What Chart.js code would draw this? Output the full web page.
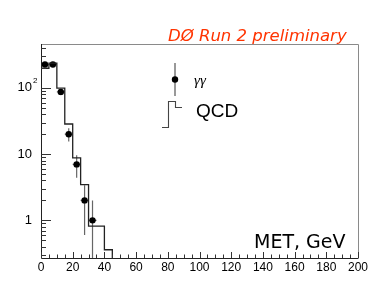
<!DOCTYPE html>
<html>
<head>
<meta charset="utf-8">
<script src="https://cdn.jsdelivr.net/npm/chart.js@4"></script>
<style>
html,body{margin:0;padding:0;background:#fff;}
#wrap{width:381px;height:300px;}
</style>
</head>
<body>
<div id="wrap"><canvas id="c" width="381" height="300"></canvas></div>
<script>
// ---- data ----
const ggCenters = [2.5, 7.5, 12.5, 17.5, 22.5, 27.5, 32.5];
const ggValues  = [225, 225, 87, 20, 7, 2, 1];
const ggErrors  = [15, 15, 9.3, 4.5, 2.6, 1.4, 1.0];
const ggHalfWidth = [2.5, 2.5, 2.5, 2.5, 2.5, 2.5, 2.5];

const qcdEdges  = [0, 5, 10, 15, 20, 25, 30, 35, 40, 45];
const qcdValues = [198, 237, 99, 28.5, 8.8, 3.47, 0.82, 0.82, 0.36];

const xTicks = [0, 20, 40, 60, 80, 100, 120, 140, 160, 180, 200];
const yTickValues = [1, 10, 100];
const yTickLabels = [["1", ""], ["10", ""], ["10", "2"]];

const X_MIN = 0, X_MAX = 200, Y_MIN = 0.27, Y_MAX = 460;

// histogram points (step-before through bin low edges, final drop below axis)
const qcdPoints = qcdValues.map((v, i) => ({x: qcdEdges[i], y: v}));
qcdPoints.push({x: qcdEdges[qcdEdges.length - 1], y: qcdValues[qcdValues.length - 1]});
qcdPoints.push({x: qcdEdges[qcdEdges.length - 1], y: Y_MIN});
const ggPoints = ggValues.map((v, i) => ({x: ggCenters[i], y: v}));

const decor = {
  id: 'decor',
  beforeDatasetsDraw(chart) {
    const {ctx, chartArea: a, scales: {x, y}} = chart;
    ctx.save();
    ctx.beginPath();
    ctx.rect(a.left, a.top, a.right - a.left, a.bottom - a.top);
    ctx.clip();
    ctx.strokeStyle = '#666';
    ctx.lineWidth = 1.2;
    ggValues.forEach((v, i) => {
      const px = x.getPixelForValue(ggCenters[i]);
      const lo = Math.max(v - ggErrors[i], Y_MIN * 0.5);
      const hi = v + ggErrors[i];
      const py = y.getPixelForValue(v);
      ctx.beginPath();
      ctx.moveTo(px, y.getPixelForValue(lo));
      ctx.lineTo(px, y.getPixelForValue(hi));
      ctx.moveTo(x.getPixelForValue(ggCenters[i] - ggHalfWidth[i]), py);
      ctx.lineTo(x.getPixelForValue(ggCenters[i] + ggHalfWidth[i]), py);
      ctx.stroke();
    });
    ctx.restore();
  },
  afterDraw(chart) {
    const {ctx, chartArea: a, scales: {x, y}} = chart;
    ctx.save();
    // frame
    ctx.lineWidth = 1;
    ctx.strokeStyle = '#8a8a8a';
    ctx.beginPath();
    ctx.moveTo(a.left, a.top + 0.5);
    ctx.lineTo(a.right + 0.5, a.top + 0.5);
    ctx.lineTo(a.right + 0.5, a.bottom);
    ctx.stroke();
    ctx.strokeStyle = '#222';
    ctx.beginPath();
    ctx.moveTo(a.left + 0.5, a.top);
    ctx.lineTo(a.left + 0.5, a.bottom + 0.5);
    ctx.lineTo(a.right + 0.5, a.bottom + 0.5);
    ctx.stroke();
    // x ticks (inward)
    ctx.strokeStyle = '#333';
    ctx.beginPath();
    for (let v = X_MIN; v <= X_MAX; v += 5) {
      const px = Math.round(x.getPixelForValue(v)) + 0.5;
      const len = (v % 20 === 0) ? 6 : 3.5;
      ctx.moveTo(px, a.bottom);
      ctx.lineTo(px, a.bottom - len);
    }
    ctx.stroke();
    // y ticks (inward)
    ctx.beginPath();
    for (let d = 0.1; d <= 1000; d *= 10) {
      for (let m = 1; m <= 9; m++) {
        const v = Math.round(d * m * 1000) / 1000;
        if (v < Y_MIN || v > Y_MAX) continue;
        const py = Math.round(y.getPixelForValue(v)) + 0.5;
        const len = m === 1 ? 10 : 5;
        ctx.moveTo(a.left, py);
        ctx.lineTo(a.left + len, py);
      }
    }
    ctx.stroke();
    // y labels
    ctx.fillStyle = '#000';
    ctx.textBaseline = 'middle';
    yTickValues.forEach((v, i) => {
      const py = y.getPixelForValue(v);
      ctx.font = '13px "Liberation Sans", Arial, sans-serif';
      ctx.textAlign = 'right';
      ctx.fillText(yTickLabels[i][0], 32, py);
      if (yTickLabels[i][1]) {
        ctx.font = '8px "Liberation Sans", Arial, sans-serif';
        ctx.textAlign = 'left';
        ctx.fillText(yTickLabels[i][1], 33, py - 7);
      }
    });
    // title
    ctx.textAlign = 'left';
    ctx.textBaseline = 'alphabetic';
    ctx.fillStyle = '#ff3300';
    ctx.font = 'italic 16.5px "DejaVu Sans", sans-serif';
    ctx.fillText('DØ Run 2 preliminary', 168, 41);
    // axis title inside
    ctx.fillStyle = '#000';
    ctx.font = '19px "DejaVu Sans", sans-serif';
    ctx.fillText('MET, GeV', 254, 248);
    // legend: gamma gamma
    ctx.strokeStyle = '#555';
    ctx.lineWidth = 1.2;
    ctx.beginPath();
    ctx.moveTo(175, 63);
    ctx.lineTo(175, 96);
    ctx.stroke();
    ctx.fillStyle = '#000';
    ctx.beginPath();
    ctx.arc(175, 79.5, 3.2, 0, Math.PI * 2);
    ctx.fill();
    ctx.font = 'italic 15px "Liberation Serif", serif';
    ctx.fillText('γγ', 194, 85);
    // legend: QCD
    ctx.strokeStyle = '#444';
    ctx.lineWidth = 1.1;
    ctx.beginPath();
    ctx.moveTo(162, 127.5);
    ctx.lineTo(168.5, 127.5);
    ctx.lineTo(168.5, 101.5);
    ctx.lineTo(175.5, 101.5);
    ctx.lineTo(175.5, 107.5);
    ctx.lineTo(182, 107.5);
    ctx.stroke();
    ctx.font = '19px "Liberation Sans", Arial, sans-serif';
    ctx.fillText('QCD', 196, 117);
    ctx.restore();
  }
};

new Chart(document.getElementById('c'), {
  type: 'scatter',
  data: {
    datasets: [
      {
        type: 'line',
        data: qcdPoints,
        stepped: 'before',
        borderColor: '#222',
        borderWidth: 1.3,
        pointRadius: 0,
        fill: false,
        tension: 0
      },
      {
        type: 'scatter',
        data: ggPoints,
        pointRadius: 3.2,
        pointBackgroundColor: '#000',
        pointBorderColor: '#000',
        pointBorderWidth: 0
      }
    ]
  },
  options: {
    responsive: false,
    animation: false,
    devicePixelRatio: 1,
    layout: {padding: {left: 0, right: 23, top: 44, bottom: 0}},
    plugins: {legend: {display: false}, tooltip: {enabled: false}},
    scales: {
      x: {
        type: 'linear', min: X_MIN, max: X_MAX,
        grid: {display: false, drawTicks: false},
        border: {display: false},
        afterBuildTicks(s) { s.ticks = xTicks.map(v => ({value: v})); },
        afterFit(s) { s.height = 42; },
        ticks: {
          autoSkip: false, maxRotation: 0, padding: 2, color: '#000',
          font: {family: '"Liberation Sans", Arial, sans-serif', size: 12}
        }
      },
      y: {
        type: 'logarithmic', min: Y_MIN, max: Y_MAX,
        grid: {display: false, drawTicks: false},
        border: {display: false},
        afterFit(s) { s.width = 41; },
        ticks: {display: false}
      }
    }
  },
  plugins: [decor]
});
</script>
</body>
</html>
